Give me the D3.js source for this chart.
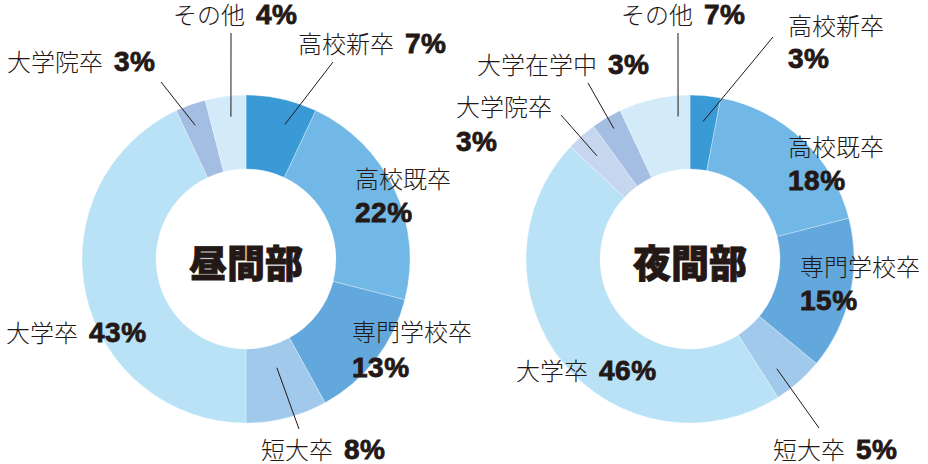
<!DOCTYPE html>
<html>
<head>
<meta charset="utf-8">
<script src="https://cdn.jsdelivr.net/npm/d3@7"></script>
<style>
body{margin:0;background:#fff;}
.name{font-family:"Noto Sans CJK JP",sans-serif;font-weight:300;font-size:24px;fill:#231815;}
.pct{font-family:"Liberation Sans",Arial,sans-serif;font-weight:bold;font-size:28px;fill:#231815;
     stroke:#231815;stroke-width:0.8;letter-spacing:0.5px;}
.title{font-family:"Noto Sans CJK JP",sans-serif;font-weight:900;font-size:38px;fill:#231815;
       stroke:#231815;stroke-width:0.8;}
.leader{stroke:#231815;stroke-width:1;fill:none;}
</style>
</head>
<body>
<svg id="chart"></svg>
<script>
//////////////////////////////////////////////////////////////
// data
var titles = ["昼間部","夜間部"];

var dayCategories = ["高校新卒","高校既卒","専門学校卒","短大卒","大学卒","大学院卒","その他"];
var dayValues = [7,22,13,8,43,3,4];

var nightCategories = ["高校新卒","高校既卒","専門学校卒","短大卒","大学卒","大学院卒","大学在学中","その他"];
var nightValues = [3,18,15,5,46,3,3,7];

//////////////////////////////////////////////////////////////
// colours
var dayColors = ["#3a9ad6","#71b8e6","#63a8dc","#a0c9ec","#b9e2f7","#a3bde3","#d3ebf9"];
var nightColors = ["#3a9ad6","#71b8e6","#63a8dc","#a0c9ec","#b9e2f7","#c5d6ee","#a3bde3","#d3ebf9"];

//////////////////////////////////////////////////////////////
// label layout: text position, and leader line (at = fraction inside slice,
// r = start radius, lx/ly = outer end)
var dayLayout = {
    "高校新卒":{x:298,y:53,at:0.64,r:140,lx:333,ly:62},
    "高校既卒":{x:355,y:188,y2:222},
    "専門学校卒":{x:352,y:341,y2:377},
    "短大卒":{x:261,y:459,at:0.45,r:113,lx:299,ly:429},
    "大学卒":{x:6,y:342},
    "大学院卒":{x:7,y:71,at:0.41,r:143,lx:161,ly:82},
    "その他":{x:173,y:24,at:0.58,r:143,lx:231,ly:33}
};
var nightLayout = {
    "高校新卒":{x:788,y:35,y2:68,at:0.5,r:138,lx:773,ly:37},
    "高校既卒":{x:788,y:156,y2:190},
    "専門学校卒":{x:800,y:276,y2:310},
    "短大卒":{x:773,y:459,at:0.67,r:140,lx:819,ly:428},
    "大学卒":{x:516,y:380},
    "大学院卒":{x:456,y:116,y2:151,at:0.44,r:139,lx:561,ly:115},
    "大学在学中":{x:477,y:74,at:0.53,r:151,lx:588,ly:83},
    "その他":{x:621,y:24,at:0.81,r:143,lx:678,ly:33}
};

//////////////////////////////////////////////////////////////
var drawDonut = function(svg,center,title,categories,values,colors,layout)
{
    var outer = 164;
    var inner = 90;

    var pie = d3.pie()
        .sort(null)
        .value(function(v){ return v; });

    var arc = d3.arc()
        .innerRadius(inner)
        .outerRadius(outer);

    var slices = pie(values);

    var g = svg.append("g")
        .attr("transform","translate("+center.x+","+center.y+")");

    g.selectAll("path")
        .data(slices)
        .enter()
        .append("path")
        .attr("d",arc)
        .attr("fill",function(d,i){ return colors[i]; })
        .attr("stroke","#ffffff")
        .attr("stroke-opacity",0.5)
        .attr("stroke-width",0.6);

    g.append("text")
        .classed("title",true)
        .attr("text-anchor","middle")
        .attr("x",0)
        .attr("y",18)
        .text(title);

    //leader lines
    slices.forEach(function(d,i)
    {
        var lay = layout[categories[i]];
        if(lay.at === undefined) return;
        var a = d.startAngle+(d.endAngle-d.startAngle)*lay.at;
        svg.append("line")
            .classed("leader",true)
            .attr("x1",center.x+lay.r*Math.sin(a))
            .attr("y1",center.y-lay.r*Math.cos(a))
            .attr("x2",lay.lx)
            .attr("y2",lay.ly);
    });

    //labels
    categories.forEach(function(cat,i)
    {
        var lay = layout[cat];
        var pct = values[i]+"%";
        if(lay.y2 === undefined)
        {
            var t = svg.append("text")
                .attr("x",lay.x)
                .attr("y",lay.y);
            t.append("tspan").classed("name",true).text(cat);
            t.append("tspan").classed("pct",true).attr("dx",11).text(pct);
        }
        else
        {
            svg.append("text").classed("name",true)
                .attr("x",lay.x).attr("y",lay.y).text(cat);
            svg.append("text").classed("pct",true)
                .attr("x",lay.x).attr("y",lay.y2).text(pct);
        }
    });
}

var svg = d3.select("#chart")
    .attr("width",928)
    .attr("height",464);

drawDonut(svg,{x:246,y:259},titles[0],dayCategories,dayValues,dayColors,dayLayout);
drawDonut(svg,{x:690,y:259},titles[1],nightCategories,nightValues,nightColors,nightLayout);
</script>
</body>
</html>
